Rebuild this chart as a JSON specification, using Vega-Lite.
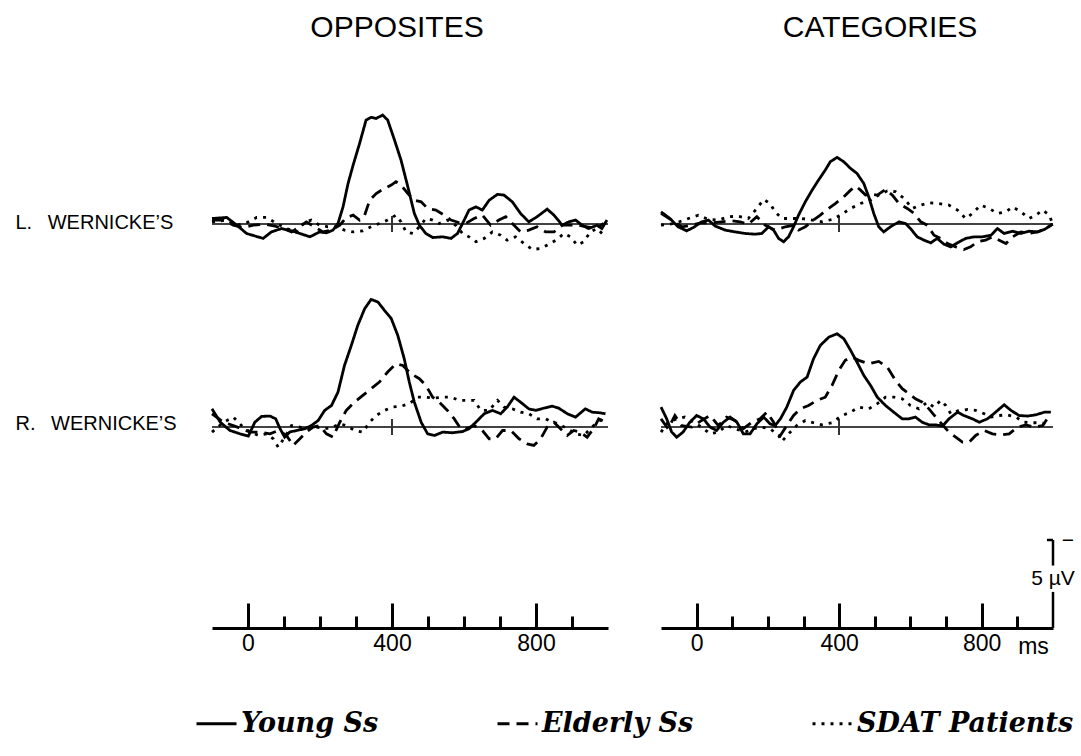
{
  "$schema": "https://vega.github.io/schema/vega-lite/v6.json",
  "background": "white",
  "padding": {"left": 15, "top": 13, "right": 5, "bottom": 5},
  "config": {
    "view": {"stroke": null},
    "font": "Liberation Sans"
  },
  "datasets": {
    "oppL": [
      {"g":"Young Ss","t":-100,"v":-0.32},{"g":"Young Ss","t":-59,"v":-0.38},{"g":"Young Ss","t":-31,"v":0.06},{"g":"Young Ss","t":-4,"v":0.53},{"g":"Young Ss","t":42,"v":0.81},{"g":"Young Ss","t":65,"v":0.44},{"g":"Young Ss","t":93,"v":0.25},{"g":"Young Ss","t":121,"v":0.38},{"g":"Young Ss","t":144,"v":0.53},{"g":"Young Ss","t":172,"v":0.72},{"g":"Young Ss","t":199,"v":0.44},{"g":"Young Ss","t":218,"v":0.49},{"g":"Young Ss","t":236,"v":0.34},{"g":"Young Ss","t":250,"v":-0.04},{"g":"Young Ss","t":264,"v":-0.98},{"g":"Young Ss","t":278,"v":-2.31},{"g":"Young Ss","t":292,"v":-3.35},{"g":"Young Ss","t":310,"v":-4.58},{"g":"Young Ss","t":328,"v":-5.91},{"g":"Young Ss","t":342,"v":-6.06},{"g":"Young Ss","t":356,"v":-6.0},{"g":"Young Ss","t":374,"v":-6.19},{"g":"Young Ss","t":388,"v":-5.91},{"g":"Young Ss","t":407,"v":-4.77},{"g":"Young Ss","t":425,"v":-3.64},{"g":"Young Ss","t":444,"v":-2.12},{"g":"Young Ss","t":462,"v":-0.61},{"g":"Young Ss","t":476,"v":0.06},{"g":"Young Ss","t":494,"v":0.53},{"g":"Young Ss","t":513,"v":0.76},{"g":"Young Ss","t":541,"v":0.72},{"g":"Young Ss","t":564,"v":0.81},{"g":"Young Ss","t":582,"v":0.53},{"g":"Young Ss","t":596,"v":-0.04},{"g":"Young Ss","t":614,"v":-0.8},{"g":"Young Ss","t":633,"v":-0.98},{"g":"Young Ss","t":651,"v":-0.8},{"g":"Young Ss","t":670,"v":-1.36},{"g":"Young Ss","t":693,"v":-1.69},{"g":"Young Ss","t":711,"v":-1.65},{"g":"Young Ss","t":734,"v":-1.27},{"g":"Young Ss","t":757,"v":-0.61},{"g":"Young Ss","t":780,"v":-0.13},{"g":"Young Ss","t":803,"v":-0.42},{"g":"Young Ss","t":831,"v":-0.85},{"g":"Young Ss","t":850,"v":-0.51},{"g":"Young Ss","t":873,"v":0.06},{"g":"Young Ss","t":891,"v":-0.13},{"g":"Young Ss","t":910,"v":-0.23},{"g":"Young Ss","t":928,"v":0.06},{"g":"Young Ss","t":946,"v":0.25},{"g":"Young Ss","t":970,"v":0.06},{"g":"Young Ss","t":983,"v":0.25},{"g":"Young Ss","t":997,"v":-0.23},
      {"g":"Elderly Ss","t":-100,"v":-0.23},{"g":"Elderly Ss","t":-68,"v":-0.23},{"g":"Elderly Ss","t":-41,"v":0.06},{"g":"Elderly Ss","t":-13,"v":0.19},{"g":"Elderly Ss","t":15,"v":0.06},{"g":"Elderly Ss","t":47,"v":0},{"g":"Elderly Ss","t":75,"v":0.11},{"g":"Elderly Ss","t":98,"v":0.25},{"g":"Elderly Ss","t":121,"v":0.44},{"g":"Elderly Ss","t":144,"v":0.15},{"g":"Elderly Ss","t":162,"v":-0.13},{"g":"Elderly Ss","t":185,"v":0.15},{"g":"Elderly Ss","t":208,"v":0.44},{"g":"Elderly Ss","t":232,"v":0.34},{"g":"Elderly Ss","t":255,"v":0.06},{"g":"Elderly Ss","t":273,"v":-0.38},{"g":"Elderly Ss","t":292,"v":-0.51},{"g":"Elderly Ss","t":310,"v":-0.23},{"g":"Elderly Ss","t":324,"v":-0.51},{"g":"Elderly Ss","t":338,"v":-1.36},{"g":"Elderly Ss","t":356,"v":-1.74},{"g":"Elderly Ss","t":379,"v":-2.03},{"g":"Elderly Ss","t":398,"v":-2.22},{"g":"Elderly Ss","t":411,"v":-2.41},{"g":"Elderly Ss","t":425,"v":-2.22},{"g":"Elderly Ss","t":444,"v":-1.74},{"g":"Elderly Ss","t":462,"v":-1.36},{"g":"Elderly Ss","t":481,"v":-1.27},{"g":"Elderly Ss","t":499,"v":-0.89},{"g":"Elderly Ss","t":522,"v":-0.8},{"g":"Elderly Ss","t":545,"v":-0.51},{"g":"Elderly Ss","t":564,"v":-0.23},{"g":"Elderly Ss","t":587,"v":-0.08},{"g":"Elderly Ss","t":605,"v":-0.04},{"g":"Elderly Ss","t":628,"v":-0.32},{"g":"Elderly Ss","t":651,"v":-0.51},{"g":"Elderly Ss","t":674,"v":0.06},{"g":"Elderly Ss","t":697,"v":-0.23},{"g":"Elderly Ss","t":716,"v":-0.42},{"g":"Elderly Ss","t":739,"v":0.06},{"g":"Elderly Ss","t":757,"v":0.44},{"g":"Elderly Ss","t":780,"v":0.34},{"g":"Elderly Ss","t":803,"v":0.15},{"g":"Elderly Ss","t":827,"v":0.44},{"g":"Elderly Ss","t":850,"v":0.44},{"g":"Elderly Ss","t":873,"v":0.06},{"g":"Elderly Ss","t":896,"v":0.06},{"g":"Elderly Ss","t":919,"v":0.06},{"g":"Elderly Ss","t":942,"v":0.15},{"g":"Elderly Ss","t":965,"v":0.25},{"g":"Elderly Ss","t":988,"v":-0.04},
      {"g":"SDAT Patients","t":-100,"v":-0.13},{"g":"SDAT Patients","t":-59,"v":-0.23},{"g":"SDAT Patients","t":-31,"v":0.06},{"g":"SDAT Patients","t":-4,"v":-0.08},{"g":"SDAT Patients","t":24,"v":-0.38},{"g":"SDAT Patients","t":52,"v":-0.38},{"g":"SDAT Patients","t":79,"v":-0.04},{"g":"SDAT Patients","t":107,"v":0.25},{"g":"SDAT Patients","t":135,"v":0.44},{"g":"SDAT Patients","t":158,"v":-0.13},{"g":"SDAT Patients","t":176,"v":-0.23},{"g":"SDAT Patients","t":199,"v":0.06},{"g":"SDAT Patients","t":222,"v":0.15},{"g":"SDAT Patients","t":245,"v":0.15},{"g":"SDAT Patients","t":268,"v":0.34},{"g":"SDAT Patients","t":292,"v":0.44},{"g":"SDAT Patients","t":319,"v":0.38},{"g":"SDAT Patients","t":342,"v":0.15},{"g":"SDAT Patients","t":365,"v":-0.04},{"g":"SDAT Patients","t":388,"v":-0.23},{"g":"SDAT Patients","t":411,"v":-0.51},{"g":"SDAT Patients","t":425,"v":-0.13},{"g":"SDAT Patients","t":439,"v":0.44},{"g":"SDAT Patients","t":458,"v":0.53},{"g":"SDAT Patients","t":476,"v":0.15},{"g":"SDAT Patients","t":494,"v":-0.32},{"g":"SDAT Patients","t":513,"v":-0.23},{"g":"SDAT Patients","t":531,"v":-0.04},{"g":"SDAT Patients","t":554,"v":-0.23},{"g":"SDAT Patients","t":577,"v":0.06},{"g":"SDAT Patients","t":596,"v":0.53},{"g":"SDAT Patients","t":614,"v":0.72},{"g":"SDAT Patients","t":633,"v":1.0},{"g":"SDAT Patients","t":656,"v":0.81},{"g":"SDAT Patients","t":679,"v":0.44},{"g":"SDAT Patients","t":702,"v":0.63},{"g":"SDAT Patients","t":720,"v":0.91},{"g":"SDAT Patients","t":743,"v":0.72},{"g":"SDAT Patients","t":767,"v":1.1},{"g":"SDAT Patients","t":790,"v":1.44},{"g":"SDAT Patients","t":813,"v":1.38},{"g":"SDAT Patients","t":836,"v":1.14},{"g":"SDAT Patients","t":859,"v":0.87},{"g":"SDAT Patients","t":877,"v":0.53},{"g":"SDAT Patients","t":896,"v":0.72},{"g":"SDAT Patients","t":914,"v":1.19},{"g":"SDAT Patients","t":933,"v":1.0},{"g":"SDAT Patients","t":951,"v":0.44},{"g":"SDAT Patients","t":970,"v":0.25},{"g":"SDAT Patients","t":988,"v":0.63}
    ],
    "catL": [
      {"g":"Young Ss","t":-100,"v":-0.7},{"g":"Young Ss","t":-75,"v":-0.32},{"g":"Young Ss","t":-52,"v":0.15},{"g":"Young Ss","t":-28,"v":0.38},{"g":"Young Ss","t":-9,"v":0.19},{"g":"Young Ss","t":14,"v":-0.13},{"g":"Young Ss","t":33,"v":-0.23},{"g":"Young Ss","t":52,"v":0.11},{"g":"Young Ss","t":80,"v":0.34},{"g":"Young Ss","t":108,"v":0.44},{"g":"Young Ss","t":136,"v":0.53},{"g":"Young Ss","t":164,"v":0.57},{"g":"Young Ss","t":183,"v":0.53},{"g":"Young Ss","t":202,"v":0.15},{"g":"Young Ss","t":216,"v":0.34},{"g":"Young Ss","t":230,"v":0.81},{"g":"Young Ss","t":244,"v":1.0},{"g":"Young Ss","t":258,"v":0.72},{"g":"Young Ss","t":272,"v":0.15},{"g":"Young Ss","t":286,"v":-0.51},{"g":"Young Ss","t":305,"v":-1.27},{"g":"Young Ss","t":324,"v":-1.93},{"g":"Young Ss","t":342,"v":-2.5},{"g":"Young Ss","t":361,"v":-3.07},{"g":"Young Ss","t":375,"v":-3.54},{"g":"Young Ss","t":394,"v":-3.79},{"g":"Young Ss","t":413,"v":-3.54},{"g":"Young Ss","t":432,"v":-3.16},{"g":"Young Ss","t":450,"v":-2.88},{"g":"Young Ss","t":469,"v":-2.31},{"g":"Young Ss","t":483,"v":-1.55},{"g":"Young Ss","t":497,"v":-0.61},{"g":"Young Ss","t":511,"v":0.15},{"g":"Young Ss","t":525,"v":0.44},{"g":"Young Ss","t":544,"v":0.15},{"g":"Young Ss","t":568,"v":-0.13},{"g":"Young Ss","t":586,"v":-0.04},{"g":"Young Ss","t":600,"v":0.25},{"g":"Young Ss","t":619,"v":0.72},{"g":"Young Ss","t":638,"v":0.91},{"g":"Young Ss","t":657,"v":1.06},{"g":"Young Ss","t":675,"v":0.81},{"g":"Young Ss","t":694,"v":1.14},{"g":"Young Ss","t":713,"v":1.29},{"g":"Young Ss","t":732,"v":1.06},{"g":"Young Ss","t":755,"v":0.81},{"g":"Young Ss","t":779,"v":0.72},{"g":"Young Ss","t":802,"v":0.72},{"g":"Young Ss","t":826,"v":0.63},{"g":"Young Ss","t":844,"v":0.25},{"g":"Young Ss","t":863,"v":0.53},{"g":"Young Ss","t":887,"v":0.4},{"g":"Young Ss","t":910,"v":0.53},{"g":"Young Ss","t":933,"v":0.4},{"g":"Young Ss","t":957,"v":0.44},{"g":"Young Ss","t":976,"v":0.3},{"g":"Young Ss","t":999,"v":0},
      {"g":"Elderly Ss","t":-100,"v":-0.61},{"g":"Elderly Ss","t":-70,"v":-0.23},{"g":"Elderly Ss","t":-42,"v":0.15},{"g":"Elderly Ss","t":-14,"v":0.06},{"g":"Elderly Ss","t":14,"v":-0.08},{"g":"Elderly Ss","t":42,"v":-0.08},{"g":"Elderly Ss","t":70,"v":-0.13},{"g":"Elderly Ss","t":98,"v":-0.19},{"g":"Elderly Ss","t":122,"v":-0.13},{"g":"Elderly Ss","t":145,"v":0},{"g":"Elderly Ss","t":169,"v":-0.42},{"g":"Elderly Ss","t":192,"v":0.06},{"g":"Elderly Ss","t":220,"v":0.34},{"g":"Elderly Ss","t":249,"v":0.15},{"g":"Elderly Ss","t":272,"v":0.06},{"g":"Elderly Ss","t":286,"v":0.34},{"g":"Elderly Ss","t":305,"v":0.15},{"g":"Elderly Ss","t":328,"v":-0.23},{"g":"Elderly Ss","t":347,"v":-0.51},{"g":"Elderly Ss","t":366,"v":-0.83},{"g":"Elderly Ss","t":389,"v":-1.17},{"g":"Elderly Ss","t":413,"v":-1.55},{"g":"Elderly Ss","t":432,"v":-1.93},{"g":"Elderly Ss","t":446,"v":-2.16},{"g":"Elderly Ss","t":460,"v":-1.93},{"g":"Elderly Ss","t":474,"v":-1.65},{"g":"Elderly Ss","t":492,"v":-1.7},{"g":"Elderly Ss","t":507,"v":-1.65},{"g":"Elderly Ss","t":530,"v":-1.97},{"g":"Elderly Ss","t":549,"v":-1.65},{"g":"Elderly Ss","t":568,"v":-1.17},{"g":"Elderly Ss","t":591,"v":-0.89},{"g":"Elderly Ss","t":610,"v":-0.61},{"g":"Elderly Ss","t":629,"v":-0.13},{"g":"Elderly Ss","t":647,"v":0.06},{"g":"Elderly Ss","t":666,"v":0.63},{"g":"Elderly Ss","t":685,"v":0.81},{"g":"Elderly Ss","t":704,"v":1.1},{"g":"Elderly Ss","t":727,"v":1.29},{"g":"Elderly Ss","t":750,"v":1.44},{"g":"Elderly Ss","t":769,"v":1.29},{"g":"Elderly Ss","t":788,"v":1.0},{"g":"Elderly Ss","t":811,"v":0.91},{"g":"Elderly Ss","t":830,"v":0.72},{"g":"Elderly Ss","t":849,"v":0.91},{"g":"Elderly Ss","t":868,"v":1.1},{"g":"Elderly Ss","t":887,"v":0.72},{"g":"Elderly Ss","t":910,"v":0.44},{"g":"Elderly Ss","t":933,"v":0.53},{"g":"Elderly Ss","t":957,"v":0.44},{"g":"Elderly Ss","t":980,"v":0.25},{"g":"Elderly Ss","t":999,"v":0},
      {"g":"SDAT Patients","t":-100,"v":0.06},{"g":"SDAT Patients","t":-61,"v":-0.04},{"g":"SDAT Patients","t":-23,"v":-0.32},{"g":"SDAT Patients","t":5,"v":-0.51},{"g":"SDAT Patients","t":33,"v":-0.27},{"g":"SDAT Patients","t":61,"v":-0.23},{"g":"SDAT Patients","t":89,"v":-0.42},{"g":"SDAT Patients","t":117,"v":-0.45},{"g":"SDAT Patients","t":145,"v":-0.32},{"g":"SDAT Patients","t":169,"v":-0.89},{"g":"SDAT Patients","t":188,"v":-1.4},{"g":"SDAT Patients","t":206,"v":-1.17},{"g":"SDAT Patients","t":220,"v":-0.7},{"g":"SDAT Patients","t":239,"v":-0.32},{"g":"SDAT Patients","t":267,"v":-0.32},{"g":"SDAT Patients","t":295,"v":-0.32},{"g":"SDAT Patients","t":324,"v":-0.23},{"g":"SDAT Patients","t":352,"v":-0.13},{"g":"SDAT Patients","t":380,"v":-0.27},{"g":"SDAT Patients","t":403,"v":-0.51},{"g":"SDAT Patients","t":432,"v":-0.89},{"g":"SDAT Patients","t":460,"v":-1.17},{"g":"SDAT Patients","t":488,"v":-1.36},{"g":"SDAT Patients","t":511,"v":-1.65},{"g":"SDAT Patients","t":535,"v":-1.89},{"g":"SDAT Patients","t":558,"v":-1.84},{"g":"SDAT Patients","t":582,"v":-1.46},{"g":"SDAT Patients","t":605,"v":-0.89},{"g":"SDAT Patients","t":628,"v":-1.08},{"g":"SDAT Patients","t":652,"v":-1.21},{"g":"SDAT Patients","t":680,"v":-1.17},{"g":"SDAT Patients","t":708,"v":-1.08},{"g":"SDAT Patients","t":732,"v":-0.8},{"g":"SDAT Patients","t":755,"v":-0.32},{"g":"SDAT Patients","t":774,"v":-0.61},{"g":"SDAT Patients","t":797,"v":-1.08},{"g":"SDAT Patients","t":821,"v":-0.89},{"g":"SDAT Patients","t":844,"v":-0.61},{"g":"SDAT Patients","t":868,"v":-0.7},{"g":"SDAT Patients","t":887,"v":-0.98},{"g":"SDAT Patients","t":910,"v":-0.7},{"g":"SDAT Patients","t":933,"v":-0.32},{"g":"SDAT Patients","t":952,"v":-0.51},{"g":"SDAT Patients","t":971,"v":-0.8},{"g":"SDAT Patients","t":990,"v":-0.51},{"g":"SDAT Patients","t":1000,"v":0.06}
    ],
    "oppR": [
      {"g":"Young Ss","t":-100,"v":-1.04},{"g":"Young Ss","t":-77,"v":-0.28},{"g":"Young Ss","t":-50,"v":0.19},{"g":"Young Ss","t":-22,"v":0.38},{"g":"Young Ss","t":1,"v":0.51},{"g":"Young Ss","t":19,"v":-0.28},{"g":"Young Ss","t":38,"v":-0.61},{"g":"Young Ss","t":61,"v":-0.63},{"g":"Young Ss","t":77,"v":-0.47},{"g":"Young Ss","t":89,"v":0.09},{"g":"Young Ss","t":102,"v":0.57},{"g":"Young Ss","t":116,"v":0.28},{"g":"Young Ss","t":135,"v":0.19},{"g":"Young Ss","t":158,"v":0.09},{"g":"Young Ss","t":176,"v":-0.09},{"g":"Young Ss","t":195,"v":-0.38},{"g":"Young Ss","t":213,"v":-0.95},{"g":"Young Ss","t":232,"v":-1.23},{"g":"Young Ss","t":250,"v":-1.99},{"g":"Young Ss","t":268,"v":-3.5},{"g":"Young Ss","t":287,"v":-4.64},{"g":"Young Ss","t":305,"v":-5.78},{"g":"Young Ss","t":324,"v":-6.72},{"g":"Young Ss","t":342,"v":-7.25},{"g":"Young Ss","t":361,"v":-7.1},{"g":"Young Ss","t":379,"v":-6.63},{"g":"Young Ss","t":398,"v":-6.16},{"g":"Young Ss","t":416,"v":-5.21},{"g":"Young Ss","t":434,"v":-3.88},{"g":"Young Ss","t":448,"v":-2.56},{"g":"Young Ss","t":462,"v":-1.42},{"g":"Young Ss","t":481,"v":-0.28},{"g":"Young Ss","t":499,"v":0.38},{"g":"Young Ss","t":518,"v":0.47},{"g":"Young Ss","t":541,"v":0.28},{"g":"Young Ss","t":568,"v":0.32},{"g":"Young Ss","t":596,"v":0.25},{"g":"Young Ss","t":614,"v":0.09},{"g":"Young Ss","t":633,"v":-0.28},{"g":"Young Ss","t":656,"v":-0.76},{"g":"Young Ss","t":679,"v":-0.95},{"g":"Young Ss","t":702,"v":-0.76},{"g":"Young Ss","t":720,"v":-1.14},{"g":"Young Ss","t":739,"v":-1.7},{"g":"Young Ss","t":757,"v":-1.42},{"g":"Young Ss","t":780,"v":-1.04},{"g":"Young Ss","t":799,"v":-0.95},{"g":"Young Ss","t":822,"v":-1.08},{"g":"Young Ss","t":845,"v":-1.19},{"g":"Young Ss","t":863,"v":-1.08},{"g":"Young Ss","t":887,"v":-0.76},{"g":"Young Ss","t":910,"v":-0.57},{"g":"Young Ss","t":937,"v":-1.04},{"g":"Young Ss","t":956,"v":-0.85},{"g":"Young Ss","t":979,"v":-0.81},{"g":"Young Ss","t":993,"v":-0.76},
      {"g":"Elderly Ss","t":-100,"v":-0.76},{"g":"Elderly Ss","t":-68,"v":-0.28},{"g":"Elderly Ss","t":-41,"v":-0.09},{"g":"Elderly Ss","t":-18,"v":0.09},{"g":"Elderly Ss","t":6,"v":0.28},{"g":"Elderly Ss","t":33,"v":0.28},{"g":"Elderly Ss","t":61,"v":0.38},{"g":"Elderly Ss","t":84,"v":0.19},{"g":"Elderly Ss","t":107,"v":0.47},{"g":"Elderly Ss","t":125,"v":1.04},{"g":"Elderly Ss","t":144,"v":0.66},{"g":"Elderly Ss","t":162,"v":0.28},{"g":"Elderly Ss","t":181,"v":0},{"g":"Elderly Ss","t":199,"v":-0.09},{"g":"Elderly Ss","t":218,"v":0.38},{"g":"Elderly Ss","t":236,"v":0.57},{"g":"Elderly Ss","t":255,"v":-0.28},{"g":"Elderly Ss","t":273,"v":-0.95},{"g":"Elderly Ss","t":296,"v":-1.42},{"g":"Elderly Ss","t":319,"v":-1.8},{"g":"Elderly Ss","t":342,"v":-2.18},{"g":"Elderly Ss","t":365,"v":-2.56},{"g":"Elderly Ss","t":388,"v":-3.13},{"g":"Elderly Ss","t":411,"v":-3.6},{"g":"Elderly Ss","t":430,"v":-3.5},{"g":"Elderly Ss","t":453,"v":-3.03},{"g":"Elderly Ss","t":476,"v":-2.75},{"g":"Elderly Ss","t":494,"v":-2.37},{"g":"Elderly Ss","t":513,"v":-1.7},{"g":"Elderly Ss","t":531,"v":-1.42},{"g":"Elderly Ss","t":554,"v":-0.95},{"g":"Elderly Ss","t":573,"v":-0.47},{"g":"Elderly Ss","t":591,"v":0.09},{"g":"Elderly Ss","t":605,"v":0.09},{"g":"Elderly Ss","t":628,"v":-0.09},{"g":"Elderly Ss","t":651,"v":0.19},{"g":"Elderly Ss","t":670,"v":0.66},{"g":"Elderly Ss","t":688,"v":0.66},{"g":"Elderly Ss","t":707,"v":0.19},{"g":"Elderly Ss","t":730,"v":0.19},{"g":"Elderly Ss","t":753,"v":0.66},{"g":"Elderly Ss","t":776,"v":0.95},{"g":"Elderly Ss","t":794,"v":1.04},{"g":"Elderly Ss","t":813,"v":0.66},{"g":"Elderly Ss","t":831,"v":0},{"g":"Elderly Ss","t":850,"v":-0.28},{"g":"Elderly Ss","t":868,"v":0.09},{"g":"Elderly Ss","t":887,"v":0.47},{"g":"Elderly Ss","t":905,"v":0.19},{"g":"Elderly Ss","t":923,"v":0.28},{"g":"Elderly Ss","t":942,"v":0.57},{"g":"Elderly Ss","t":960,"v":0.09},{"g":"Elderly Ss","t":974,"v":-0.47},{"g":"Elderly Ss","t":993,"v":-0.28},
      {"g":"SDAT Patients","t":-100,"v":0.28},{"g":"SDAT Patients","t":-68,"v":-0.28},{"g":"SDAT Patients","t":-41,"v":-0.57},{"g":"SDAT Patients","t":-18,"v":-0.09},{"g":"SDAT Patients","t":6,"v":0.28},{"g":"SDAT Patients","t":29,"v":0.47},{"g":"SDAT Patients","t":52,"v":0.38},{"g":"SDAT Patients","t":70,"v":0.66},{"g":"SDAT Patients","t":84,"v":1.14},{"g":"SDAT Patients","t":102,"v":0.57},{"g":"SDAT Patients","t":121,"v":-0.09},{"g":"SDAT Patients","t":144,"v":0},{"g":"SDAT Patients","t":167,"v":0.09},{"g":"SDAT Patients","t":190,"v":0},{"g":"SDAT Patients","t":213,"v":0.09},{"g":"SDAT Patients","t":236,"v":0},{"g":"SDAT Patients","t":255,"v":-0.19},{"g":"SDAT Patients","t":273,"v":-0.09},{"g":"SDAT Patients","t":296,"v":0.19},{"g":"SDAT Patients","t":319,"v":0.28},{"g":"SDAT Patients","t":338,"v":-0.28},{"g":"SDAT Patients","t":356,"v":-0.66},{"g":"SDAT Patients","t":379,"v":-0.95},{"g":"SDAT Patients","t":402,"v":-1.14},{"g":"SDAT Patients","t":425,"v":-1.19},{"g":"SDAT Patients","t":448,"v":-1.33},{"g":"SDAT Patients","t":471,"v":-1.7},{"g":"SDAT Patients","t":494,"v":-1.7},{"g":"SDAT Patients","t":518,"v":-1.65},{"g":"SDAT Patients","t":541,"v":-1.7},{"g":"SDAT Patients","t":564,"v":-1.7},{"g":"SDAT Patients","t":587,"v":-1.52},{"g":"SDAT Patients","t":610,"v":-1.52},{"g":"SDAT Patients","t":628,"v":-1.52},{"g":"SDAT Patients","t":647,"v":-0.95},{"g":"SDAT Patients","t":670,"v":-0.95},{"g":"SDAT Patients","t":693,"v":-1.52},{"g":"SDAT Patients","t":711,"v":-1.14},{"g":"SDAT Patients","t":734,"v":-1.04},{"g":"SDAT Patients","t":757,"v":-0.85},{"g":"SDAT Patients","t":780,"v":-0.76},{"g":"SDAT Patients","t":803,"v":-0.47},{"g":"SDAT Patients","t":827,"v":-0.47},{"g":"SDAT Patients","t":845,"v":-0.28},{"g":"SDAT Patients","t":863,"v":-0.19},{"g":"SDAT Patients","t":887,"v":0.09},{"g":"SDAT Patients","t":910,"v":0.38},{"g":"SDAT Patients","t":933,"v":0.47},{"g":"SDAT Patients","t":951,"v":0.09},{"g":"SDAT Patients","t":970,"v":-0.28},{"g":"SDAT Patients","t":988,"v":-0.47}
    ],
    "catR": [
      {"g":"Young Ss","t":-100,"v":-1.14},{"g":"Young Ss","t":-84,"v":-0.47},{"g":"Young Ss","t":-70,"v":0.28},{"g":"Young Ss","t":-56,"v":0.57},{"g":"Young Ss","t":-38,"v":0.28},{"g":"Young Ss","t":-19,"v":-0.28},{"g":"Young Ss","t":0,"v":-0.66},{"g":"Young Ss","t":19,"v":-0.47},{"g":"Young Ss","t":38,"v":0},{"g":"Young Ss","t":56,"v":0.19},{"g":"Young Ss","t":75,"v":-0.28},{"g":"Young Ss","t":94,"v":-0.57},{"g":"Young Ss","t":113,"v":-0.28},{"g":"Young Ss","t":131,"v":0.38},{"g":"Young Ss","t":150,"v":0.38},{"g":"Young Ss","t":169,"v":-0.19},{"g":"Young Ss","t":188,"v":-0.57},{"g":"Young Ss","t":206,"v":-0.19},{"g":"Young Ss","t":220,"v":-0.09},{"g":"Young Ss","t":235,"v":-0.47},{"g":"Young Ss","t":253,"v":-1.14},{"g":"Young Ss","t":272,"v":-2.08},{"g":"Young Ss","t":291,"v":-2.56},{"g":"Young Ss","t":310,"v":-2.84},{"g":"Young Ss","t":328,"v":-3.88},{"g":"Young Ss","t":347,"v":-4.64},{"g":"Young Ss","t":371,"v":-5.11},{"g":"Young Ss","t":394,"v":-5.3},{"g":"Young Ss","t":413,"v":-5.02},{"g":"Young Ss","t":432,"v":-4.36},{"g":"Young Ss","t":450,"v":-3.69},{"g":"Young Ss","t":469,"v":-2.94},{"g":"Young Ss","t":488,"v":-2.37},{"g":"Young Ss","t":507,"v":-1.7},{"g":"Young Ss","t":530,"v":-1.23},{"g":"Young Ss","t":553,"v":-0.85},{"g":"Young Ss","t":577,"v":-0.47},{"g":"Young Ss","t":596,"v":-0.47},{"g":"Young Ss","t":614,"v":-0.57},{"g":"Young Ss","t":633,"v":-0.28},{"g":"Young Ss","t":652,"v":-0.13},{"g":"Young Ss","t":671,"v":-0.13},{"g":"Young Ss","t":690,"v":-0.06},{"g":"Young Ss","t":708,"v":-0.47},{"g":"Young Ss","t":732,"v":-0.85},{"g":"Young Ss","t":750,"v":-0.66},{"g":"Young Ss","t":774,"v":-0.47},{"g":"Young Ss","t":793,"v":-0.28},{"g":"Young Ss","t":816,"v":-0.47},{"g":"Young Ss","t":839,"v":-0.85},{"g":"Young Ss","t":863,"v":-1.27},{"g":"Young Ss","t":882,"v":-0.95},{"g":"Young Ss","t":905,"v":-0.66},{"g":"Young Ss","t":929,"v":-0.63},{"g":"Young Ss","t":952,"v":-0.7},{"g":"Young Ss","t":976,"v":-0.85},{"g":"Young Ss","t":994,"v":-0.85},
      {"g":"Elderly Ss","t":-100,"v":-0.47},{"g":"Elderly Ss","t":-80,"v":0.09},{"g":"Elderly Ss","t":-61,"v":-0.66},{"g":"Elderly Ss","t":-42,"v":-0.09},{"g":"Elderly Ss","t":-14,"v":0},{"g":"Elderly Ss","t":14,"v":-0.38},{"g":"Elderly Ss","t":38,"v":-0.66},{"g":"Elderly Ss","t":61,"v":-0.09},{"g":"Elderly Ss","t":84,"v":-0.57},{"g":"Elderly Ss","t":108,"v":-0.38},{"g":"Elderly Ss","t":131,"v":0.09},{"g":"Elderly Ss","t":155,"v":-0.28},{"g":"Elderly Ss","t":178,"v":-0.47},{"g":"Elderly Ss","t":197,"v":-0.85},{"g":"Elderly Ss","t":216,"v":-0.28},{"g":"Elderly Ss","t":235,"v":0.47},{"g":"Elderly Ss","t":253,"v":-0.09},{"g":"Elderly Ss","t":272,"v":-0.66},{"g":"Elderly Ss","t":291,"v":-1.04},{"g":"Elderly Ss","t":314,"v":-1.23},{"g":"Elderly Ss","t":338,"v":-1.52},{"g":"Elderly Ss","t":361,"v":-1.7},{"g":"Elderly Ss","t":380,"v":-2.37},{"g":"Elderly Ss","t":399,"v":-3.22},{"g":"Elderly Ss","t":417,"v":-3.79},{"g":"Elderly Ss","t":436,"v":-3.98},{"g":"Elderly Ss","t":455,"v":-3.79},{"g":"Elderly Ss","t":483,"v":-3.6},{"g":"Elderly Ss","t":511,"v":-3.73},{"g":"Elderly Ss","t":535,"v":-3.41},{"g":"Elderly Ss","t":558,"v":-2.65},{"g":"Elderly Ss","t":577,"v":-2.18},{"g":"Elderly Ss","t":596,"v":-1.89},{"g":"Elderly Ss","t":614,"v":-1.61},{"g":"Elderly Ss","t":633,"v":-1.42},{"g":"Elderly Ss","t":652,"v":-1.04},{"g":"Elderly Ss","t":671,"v":-0.57},{"g":"Elderly Ss","t":690,"v":-0.13},{"g":"Elderly Ss","t":708,"v":0.28},{"g":"Elderly Ss","t":727,"v":0.57},{"g":"Elderly Ss","t":746,"v":0.85},{"g":"Elderly Ss","t":765,"v":0.85},{"g":"Elderly Ss","t":783,"v":0.47},{"g":"Elderly Ss","t":807,"v":0.19},{"g":"Elderly Ss","t":830,"v":0.38},{"g":"Elderly Ss","t":854,"v":0.44},{"g":"Elderly Ss","t":877,"v":0.38},{"g":"Elderly Ss","t":901,"v":0},{"g":"Elderly Ss","t":924,"v":-0.13},{"g":"Elderly Ss","t":947,"v":0},{"g":"Elderly Ss","t":971,"v":-0.09},{"g":"Elderly Ss","t":990,"v":-0.66},
      {"g":"SDAT Patients","t":-100,"v":0.28},{"g":"SDAT Patients","t":-80,"v":-0.28},{"g":"SDAT Patients","t":-56,"v":-0.47},{"g":"SDAT Patients","t":-33,"v":-0.57},{"g":"SDAT Patients","t":-9,"v":-0.28},{"g":"SDAT Patients","t":14,"v":0},{"g":"SDAT Patients","t":38,"v":0.38},{"g":"SDAT Patients","t":61,"v":0.28},{"g":"SDAT Patients","t":84,"v":-0.09},{"g":"SDAT Patients","t":108,"v":0.09},{"g":"SDAT Patients","t":136,"v":0.28},{"g":"SDAT Patients","t":159,"v":0.09},{"g":"SDAT Patients","t":183,"v":0},{"g":"SDAT Patients","t":206,"v":0.09},{"g":"SDAT Patients","t":230,"v":0.47},{"g":"SDAT Patients","t":239,"v":0.81},{"g":"SDAT Patients","t":258,"v":0.38},{"g":"SDAT Patients","t":281,"v":-0.09},{"g":"SDAT Patients","t":305,"v":-0.38},{"g":"SDAT Patients","t":328,"v":-0.25},{"g":"SDAT Patients","t":352,"v":-0.13},{"g":"SDAT Patients","t":380,"v":-0.25},{"g":"SDAT Patients","t":408,"v":-0.66},{"g":"SDAT Patients","t":432,"v":-0.85},{"g":"SDAT Patients","t":455,"v":-1.14},{"g":"SDAT Patients","t":483,"v":-1.04},{"g":"SDAT Patients","t":507,"v":-1.33},{"g":"SDAT Patients","t":530,"v":-1.7},{"g":"SDAT Patients","t":553,"v":-1.7},{"g":"SDAT Patients","t":577,"v":-1.61},{"g":"SDAT Patients","t":600,"v":-1.23},{"g":"SDAT Patients","t":624,"v":-1.04},{"g":"SDAT Patients","t":647,"v":-1.42},{"g":"SDAT Patients","t":666,"v":-1.14},{"g":"SDAT Patients","t":685,"v":-1.52},{"g":"SDAT Patients","t":699,"v":-1.23},{"g":"SDAT Patients","t":713,"v":-0.76},{"g":"SDAT Patients","t":736,"v":-0.95},{"g":"SDAT Patients","t":760,"v":-1.0},{"g":"SDAT Patients","t":783,"v":-0.95},{"g":"SDAT Patients","t":807,"v":-0.76},{"g":"SDAT Patients","t":826,"v":-0.57},{"g":"SDAT Patients","t":849,"v":-0.66},{"g":"SDAT Patients","t":872,"v":-0.7},{"g":"SDAT Patients","t":896,"v":-0.57},{"g":"SDAT Patients","t":919,"v":-0.28},{"g":"SDAT Patients","t":943,"v":-0.25},{"g":"SDAT Patients","t":966,"v":-0.25},{"g":"SDAT Patients","t":990,"v":-0.13}
    ]
  },
  "columns": 2,
  "spacing": {"row": 16, "column": 42},
  "concat": [
    {
      "width": 396, "height": 185,
      "data": {"name": "oppL"},
      "title": {"text": "OPPOSITES", "fontSize": 30, "font": "Liberation Sans", "fontWeight": "normal", "color": "black", "offset": 49, "dx": -13},
      "layer": [
        {"mark": {"type": "rule", "strokeWidth": 1, "color": "#444"},
         "encoding": {"y": {"datum": 0, "type": "quantitative", "scale": {"domain": [-7.5, 3], "reverse": true, "nice": false, "zero": false},
                 "axis": {"title": "L.\u2002 WERNICKE\u2019S", "domain": false, "ticks": false, "labels": false, "grid": false, "titleAngle": 0, "titleAlign": "left", "titleBaseline": "middle", "titleX": -197, "titleY": 130, "titleFont": "Liberation Sans", "titleFontSize": 20, "titleFontWeight": "normal", "titleColor": "black"}}}},
        {"mark": {"type": "rule", "strokeWidth": 1.3, "color": "#333"},
         "encoding": {"x": {"datum": 400, "type": "quantitative", "scale": {"domain": [-100, 1000], "nice": false, "zero": false}, "axis": null},
                      "y": {"datum": -0.45, "type": "quantitative", "scale": {"domain": [-7.5, 3], "reverse": true, "nice": false, "zero": false},
                 "axis": {"title": "L.\u2002 WERNICKE\u2019S", "domain": false, "ticks": false, "labels": false, "grid": false, "titleAngle": 0, "titleAlign": "left", "titleBaseline": "middle", "titleX": -197, "titleY": 130, "titleFont": "Liberation Sans", "titleFontSize": 20, "titleFontWeight": "normal", "titleColor": "black"}},
                      "y2": {"datum": 0.45}}},
        {"mark": {"type": "line", "color": "black", "strokeWidth": 2.8},
         "encoding": {
           "x": {"field": "t", "type": "quantitative", "scale": {"domain": [-100, 1000], "nice": false, "zero": false}, "axis": null},
           "y": {"field": "v", "type": "quantitative", "scale": {"domain": [-7.5, 3], "reverse": true, "nice": false, "zero": false},
                 "axis": {"title": "L.\u2002 WERNICKE\u2019S", "domain": false, "ticks": false, "labels": false, "grid": false, "titleAngle": 0, "titleAlign": "left", "titleBaseline": "middle", "titleX": -197, "titleY": 130, "titleFont": "Liberation Sans", "titleFontSize": 20, "titleFontWeight": "normal", "titleColor": "black"}},
           "strokeDash": {"field": "g", "type": "nominal", "scale": {"domain": ["Young Ss", "Elderly Ss", "SDAT Patients"], "range": [[1, 0], [12, 7], [3, 6]]},
             "legend": {"title": null, "orient": "none", "legendX": -17, "legendY": 610, "direction": "horizontal", "symbolType": "stroke", "symbolSize": 1600, "symbolStrokeWidth": 2.8, "symbolStrokeColor": "black", "symbolFillColor": "transparent", "labelFont": "DejaVu Serif", "labelFontStyle": "italic", "labelFontWeight": "bold", "labelFontSize": 27, "labelColor": "black", "labelOffset": 3, "columnPadding": 112, "labelLimit": 500, "padding": 0}}
         }}
      ]
    },
    {
      "width": 392, "height": 185,
      "data": {"name": "catL"},
      "title": {"text": "CATEGORIES", "fontSize": 30, "font": "Liberation Sans", "fontWeight": "normal", "color": "black", "offset": 49, "dx": 23},
      "layer": [
        {"mark": {"type": "rule", "strokeWidth": 1, "color": "#444"},
         "encoding": {"y": {"datum": 0, "type": "quantitative", "scale": {"domain": [-7.5, 3], "reverse": true, "nice": false, "zero": false}, "axis": null}}},
        {"mark": {"type": "rule", "strokeWidth": 1.3, "color": "#333"},
         "encoding": {"x": {"datum": 400, "type": "quantitative", "scale": {"domain": [-100, 1000], "nice": false, "zero": false}, "axis": null},
                      "y": {"datum": -0.45, "type": "quantitative", "scale": {"domain": [-7.5, 3], "reverse": true, "nice": false, "zero": false}, "axis": null},
                      "y2": {"datum": 0.45}}},
        {"mark": {"type": "line", "color": "black", "strokeWidth": 2.8},
         "encoding": {
           "x": {"field": "t", "type": "quantitative", "scale": {"domain": [-100, 1000], "nice": false, "zero": false}, "axis": null},
           "y": {"field": "v", "type": "quantitative", "scale": {"domain": [-7.5, 3], "reverse": true, "nice": false, "zero": false}, "axis": null},
           "strokeDash": {"field": "g", "type": "nominal", "scale": {"domain": ["Young Ss", "Elderly Ss", "SDAT Patients"], "range": [[1, 0], [12, 7], [3, 6]]},
             "legend": {"title": null, "orient": "none", "legendX": -17, "legendY": 610, "direction": "horizontal", "symbolType": "stroke", "symbolSize": 1600, "symbolStrokeWidth": 2.8, "symbolStrokeColor": "black", "symbolFillColor": "transparent", "labelFont": "DejaVu Serif", "labelFontStyle": "italic", "labelFontWeight": "bold", "labelFontSize": 27, "labelColor": "black", "labelOffset": 3, "columnPadding": 112, "labelLimit": 500, "padding": 0}}
         }}
      ]
    },
    {
      "width": 396, "height": 185,
      "data": {"name": "oppR"},
      "layer": [
        {"mark": {"type": "rule", "strokeWidth": 1, "color": "#444"},
         "encoding": {"y": {"datum": 0, "type": "quantitative", "scale": {"domain": [-7.5, 3], "reverse": true, "nice": false, "zero": false},
                 "axis": {"title": "R.\u2002 WERNICKE\u2019S", "domain": false, "ticks": false, "labels": false, "grid": false, "titleAngle": 0, "titleAlign": "left", "titleBaseline": "middle", "titleX": -197, "titleY": 128, "titleFont": "Liberation Sans", "titleFontSize": 20, "titleFontWeight": "normal", "titleColor": "black"}}}},
        {"mark": {"type": "rule", "strokeWidth": 1.3, "color": "#333"},
         "encoding": {"x": {"datum": 400, "type": "quantitative", "scale": {"domain": [-100, 1000], "nice": false, "zero": false}, "axis": null},
                      "y": {"datum": -0.45, "type": "quantitative", "scale": {"domain": [-7.5, 3], "reverse": true, "nice": false, "zero": false},
                 "axis": {"title": "R.\u2002 WERNICKE\u2019S", "domain": false, "ticks": false, "labels": false, "grid": false, "titleAngle": 0, "titleAlign": "left", "titleBaseline": "middle", "titleX": -197, "titleY": 128, "titleFont": "Liberation Sans", "titleFontSize": 20, "titleFontWeight": "normal", "titleColor": "black"}},
                      "y2": {"datum": 0.45}}},
        {"mark": {"type": "line", "color": "black", "strokeWidth": 2.8},
         "encoding": {
           "x": {"field": "t", "type": "quantitative", "scale": {"domain": [-100, 1000], "nice": false, "zero": false}, "axis": null},
           "y": {"field": "v", "type": "quantitative", "scale": {"domain": [-7.5, 3], "reverse": true, "nice": false, "zero": false},
                 "axis": {"title": "R.\u2002 WERNICKE\u2019S", "domain": false, "ticks": false, "labels": false, "grid": false, "titleAngle": 0, "titleAlign": "left", "titleBaseline": "middle", "titleX": -197, "titleY": 128, "titleFont": "Liberation Sans", "titleFontSize": 20, "titleFontWeight": "normal", "titleColor": "black"}},
           "strokeDash": {"field": "g", "type": "nominal", "scale": {"domain": ["Young Ss", "Elderly Ss", "SDAT Patients"], "range": [[1, 0], [12, 7], [3, 6]]},
             "legend": {"title": null, "orient": "none", "legendX": -17, "legendY": 610, "direction": "horizontal", "symbolType": "stroke", "symbolSize": 1600, "symbolStrokeWidth": 2.8, "symbolStrokeColor": "black", "symbolFillColor": "transparent", "labelFont": "DejaVu Serif", "labelFontStyle": "italic", "labelFontWeight": "bold", "labelFontSize": 27, "labelColor": "black", "labelOffset": 3, "columnPadding": 112, "labelLimit": 500, "padding": 0}}
         }}
      ]
    },
    {
      "width": 392, "height": 185,
      "data": {"name": "catR"},
      "layer": [
        {"mark": {"type": "rule", "strokeWidth": 1, "color": "#444"},
         "encoding": {"y": {"datum": 0, "type": "quantitative", "scale": {"domain": [-7.5, 3], "reverse": true, "nice": false, "zero": false}, "axis": null}}},
        {"mark": {"type": "rule", "strokeWidth": 1.3, "color": "#333"},
         "encoding": {"x": {"datum": 400, "type": "quantitative", "scale": {"domain": [-100, 1000], "nice": false, "zero": false}, "axis": null},
                      "y": {"datum": -0.45, "type": "quantitative", "scale": {"domain": [-7.5, 3], "reverse": true, "nice": false, "zero": false}, "axis": null},
                      "y2": {"datum": 0.45}}},
        {"mark": {"type": "line", "color": "black", "strokeWidth": 2.8},
         "encoding": {
           "x": {"field": "t", "type": "quantitative", "scale": {"domain": [-100, 1000], "nice": false, "zero": false}, "axis": null},
           "y": {"field": "v", "type": "quantitative", "scale": {"domain": [-7.5, 3], "reverse": true, "nice": false, "zero": false}, "axis": null},
           "strokeDash": {"field": "g", "type": "nominal", "scale": {"domain": ["Young Ss", "Elderly Ss", "SDAT Patients"], "range": [[1, 0], [12, 7], [3, 6]]},
             "legend": {"title": null, "orient": "none", "legendX": -17, "legendY": 610, "direction": "horizontal", "symbolType": "stroke", "symbolSize": 1600, "symbolStrokeWidth": 2.8, "symbolStrokeColor": "black", "symbolFillColor": "transparent", "labelFont": "DejaVu Serif", "labelFontStyle": "italic", "labelFontWeight": "bold", "labelFontSize": 27, "labelColor": "black", "labelOffset": 3, "columnPadding": 112, "labelLimit": 500, "padding": 0}}
         }}
      ]
    },
    {
      "width": 396, "height": 132,
      "data": {"values": [{"t": 0}]},
      "mark": {"type": "rule", "opacity": 0},
      "encoding": {
        "x": {"field": "t", "type": "quantitative", "scale": {"domain": [-100, 1000], "nice": false, "zero": false},
              "axis": {"values": [0, 100, 200, 300, 400, 500, 600, 700, 800, 900],
                       "tickSize": {"condition": {"test": "datum.value % 400 === 0", "value": -25}, "value": -12},
                       "tickWidth": 3, "tickColor": "black", "domainWidth": 3, "domainColor": "black", "grid": false,
                       "labelExpr": "datum.value % 400 === 0 ? datum.label : ''", "labelPadding": 29,
                       "labelFont": "Liberation Sans", "labelFontSize": 23, "labelColor": "black", "labelFlush": false, "labelOverlap": false,
                       "title": null}}
      }
    },
    {
      "width": 392, "height": 132,
      "data": {"values": [{"t": 0}]},
      "layer": [
        {"mark": {"type": "rule", "strokeWidth": 2.5, "color": "black"},
         "encoding": {
           "x": {"datum": 1000, "type": "quantitative", "scale": {"domain": [-100, 1000], "nice": false, "zero": false},
                 "axis": {"values": [0, 100, 200, 300, 400, 500, 600, 700, 800, 900], "tickSize": {"condition": {"test": "datum.value % 400 === 0", "value": -25}, "value": -12}, "tickWidth": 3, "tickColor": "black", "domainWidth": 3, "domainColor": "black", "grid": false, "labelExpr": "datum.value % 400 === 0 ? datum.label : ''", "labelPadding": 29, "labelFont": "Liberation Sans", "labelFontSize": 23, "labelColor": "black", "labelFlush": false, "labelOverlap": false, "title": "ms", "titleX": 372, "titleY": 25, "titleAlign": "center", "titleBaseline": "alphabetic", "titleAngle": 0, "titleFont": "Liberation Sans", "titleFontSize": 23, "titleFontWeight": "normal", "titleColor": "black"}},
           "y": {"datum": 0, "type": "quantitative", "scale": {"domain": [-7.5, 0], "reverse": true, "nice": false, "zero": false}, "axis": null},
           "y2": {"datum": -2.05}
         }},
        {"mark": {"type": "rule", "strokeWidth": 2.5, "color": "black"},
         "encoding": {
           "x": {"datum": 1000, "type": "quantitative", "scale": {"domain": [-100, 1000], "nice": false, "zero": false},
                 "axis": {"values": [0, 100, 200, 300, 400, 500, 600, 700, 800, 900], "tickSize": {"condition": {"test": "datum.value % 400 === 0", "value": -25}, "value": -12}, "tickWidth": 3, "tickColor": "black", "domainWidth": 3, "domainColor": "black", "grid": false, "labelExpr": "datum.value % 400 === 0 ? datum.label : ''", "labelPadding": 29, "labelFont": "Liberation Sans", "labelFontSize": 23, "labelColor": "black", "labelFlush": false, "labelOverlap": false, "title": "ms", "titleX": 372, "titleY": 25, "titleAlign": "center", "titleBaseline": "alphabetic", "titleAngle": 0, "titleFont": "Liberation Sans", "titleFontSize": 23, "titleFontWeight": "normal", "titleColor": "black"}},
           "y": {"datum": -3.55, "type": "quantitative", "scale": {"domain": [-7.5, 0], "reverse": true, "nice": false, "zero": false}, "axis": null},
           "y2": {"datum": -5}
         }},
        {"mark": {"type": "rule", "strokeWidth": 2.5, "color": "black"},
         "encoding": {
           "x": {"datum": 983, "type": "quantitative", "scale": {"domain": [-100, 1000], "nice": false, "zero": false},
                 "axis": {"values": [0, 100, 200, 300, 400, 500, 600, 700, 800, 900], "tickSize": {"condition": {"test": "datum.value % 400 === 0", "value": -25}, "value": -12}, "tickWidth": 3, "tickColor": "black", "domainWidth": 3, "domainColor": "black", "grid": false, "labelExpr": "datum.value % 400 === 0 ? datum.label : ''", "labelPadding": 29, "labelFont": "Liberation Sans", "labelFontSize": 23, "labelColor": "black", "labelFlush": false, "labelOverlap": false, "title": "ms", "titleX": 372, "titleY": 25, "titleAlign": "center", "titleBaseline": "alphabetic", "titleAngle": 0, "titleFont": "Liberation Sans", "titleFontSize": 23, "titleFontWeight": "normal", "titleColor": "black"}},
           "x2": {"datum": 1000},
           "y": {"datum": -5, "type": "quantitative", "scale": {"domain": [-7.5, 0], "reverse": true, "nice": false, "zero": false}, "axis": null}
         }},
        {"mark": {"type": "text", "text": "5 \u00b5V", "font": "Liberation Sans", "fontSize": 21, "color": "black", "align": "center", "baseline": "middle"},
         "encoding": {
           "x": {"datum": 1000, "type": "quantitative", "scale": {"domain": [-100, 1000], "nice": false, "zero": false},
                 "axis": {"values": [0, 100, 200, 300, 400, 500, 600, 700, 800, 900], "tickSize": {"condition": {"test": "datum.value % 400 === 0", "value": -25}, "value": -12}, "tickWidth": 3, "tickColor": "black", "domainWidth": 3, "domainColor": "black", "grid": false, "labelExpr": "datum.value % 400 === 0 ? datum.label : ''", "labelPadding": 29, "labelFont": "Liberation Sans", "labelFontSize": 23, "labelColor": "black", "labelFlush": false, "labelOverlap": false, "title": "ms", "titleX": 372, "titleY": 25, "titleAlign": "center", "titleBaseline": "alphabetic", "titleAngle": 0, "titleFont": "Liberation Sans", "titleFontSize": 23, "titleFontWeight": "normal", "titleColor": "black"}},
           "y": {"datum": -2.8, "type": "quantitative", "scale": {"domain": [-7.5, 0], "reverse": true, "nice": false, "zero": false}, "axis": null}
         }},
        {"mark": {"type": "text", "text": "\u2212", "font": "Liberation Sans", "fontSize": 21, "color": "black", "align": "center", "baseline": "middle"},
         "encoding": {
           "x": {"datum": 1042, "type": "quantitative", "scale": {"domain": [-100, 1000], "nice": false, "zero": false},
                 "axis": {"values": [0, 100, 200, 300, 400, 500, 600, 700, 800, 900], "tickSize": {"condition": {"test": "datum.value % 400 === 0", "value": -25}, "value": -12}, "tickWidth": 3, "tickColor": "black", "domainWidth": 3, "domainColor": "black", "grid": false, "labelExpr": "datum.value % 400 === 0 ? datum.label : ''", "labelPadding": 29, "labelFont": "Liberation Sans", "labelFontSize": 23, "labelColor": "black", "labelFlush": false, "labelOverlap": false, "title": "ms", "titleX": 372, "titleY": 25, "titleAlign": "center", "titleBaseline": "alphabetic", "titleAngle": 0, "titleFont": "Liberation Sans", "titleFontSize": 23, "titleFontWeight": "normal", "titleColor": "black"}},
           "y": {"datum": -4.95, "type": "quantitative", "scale": {"domain": [-7.5, 0], "reverse": true, "nice": false, "zero": false}, "axis": null}
         }}
      ]
    }
  ]
}
